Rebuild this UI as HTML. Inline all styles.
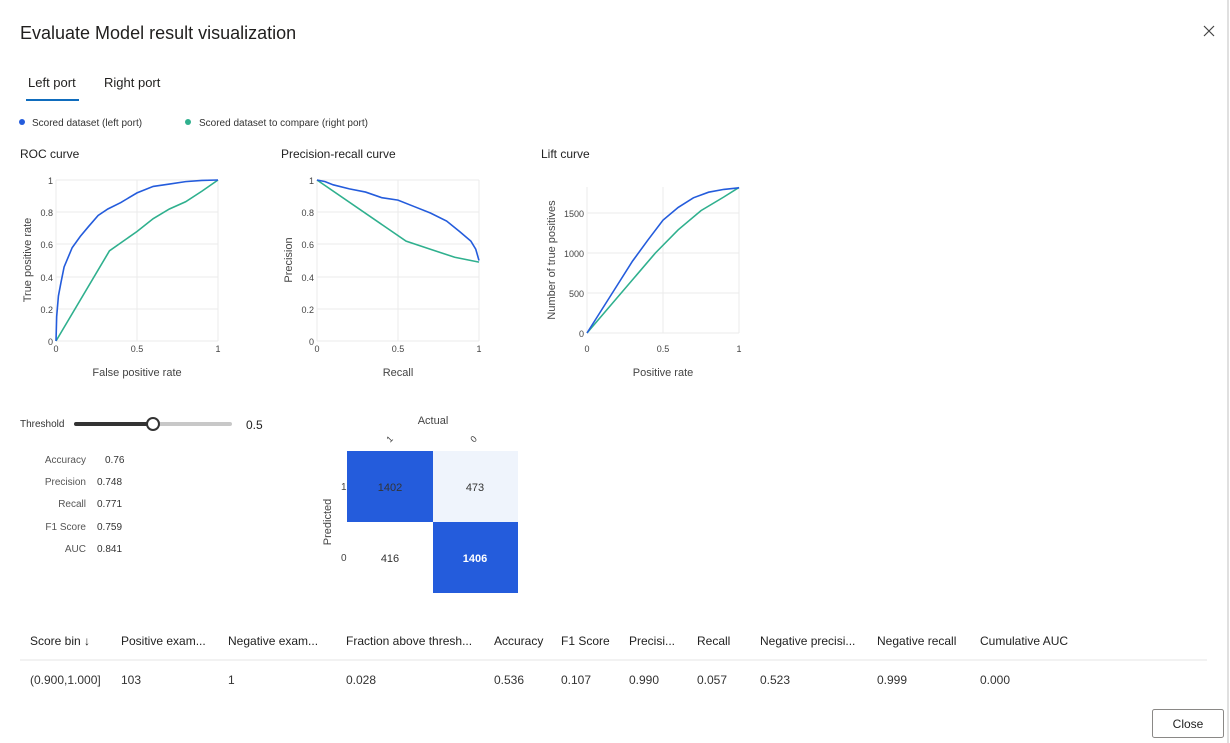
<!DOCTYPE html>
<html><head><meta charset="utf-8"><style>
html,body{margin:0;padding:0;background:#fff;width:1230px;height:743px;overflow:hidden}
svg text{font-family:"Liberation Sans",sans-serif}
</style></head><body>
<svg width="1230" height="743" viewBox="0 0 1230 743" xmlns="http://www.w3.org/2000/svg">
<rect width="1230" height="743" fill="#fff"/>
<line x1="1228" y1="0" x2="1228" y2="743" stroke="#e0e0e0" stroke-width="2"/>
<text x="20" y="39" font-size="18" fill="#201f1e">Evaluate Model result visualization</text>
<path d="M1204 26 L1214 36 M1214 26 L1204 36" stroke="#444" stroke-width="1.2"/>
<text x="28" y="87" font-size="13" fill="#201f1e">Left port</text>
<text x="104" y="87" font-size="13" fill="#201f1e">Right port</text>
<rect x="26" y="99" width="53" height="2" fill="#0f6cbd"/>
<circle cx="22" cy="122" r="3" fill="#245cdc"/>
<text x="32" y="126" font-size="10" fill="#333">Scored dataset (left port)</text>
<circle cx="188" cy="122" r="3" fill="#2fb08e"/>
<text x="199" y="126" font-size="10" fill="#333">Scored dataset to compare (right port)</text>
<text x="20" y="158" font-size="12" fill="#222">ROC curve</text>
<text x="281" y="158" font-size="12" fill="#222">Precision-recall curve</text>
<text x="541" y="158" font-size="12" fill="#222">Lift curve</text>

<!-- ROC -->
<g stroke="#ebebeb" stroke-width="1">
<line x1="56" y1="180" x2="218" y2="180"/><line x1="56" y1="212" x2="218" y2="212"/><line x1="56" y1="244" x2="218" y2="244"/><line x1="56" y1="277" x2="218" y2="277"/><line x1="56" y1="309" x2="218" y2="309"/>
<line x1="137" y1="180" x2="137" y2="341"/><line x1="218" y1="180" x2="218" y2="341"/>
<line x1="56" y1="180" x2="56" y2="341"/><line x1="56" y1="341" x2="218" y2="341"/>
</g>
<g font-size="9" fill="#444" text-anchor="end">
<text x="53" y="184">1</text><text x="53" y="216">0.8</text><text x="53" y="248">0.6</text><text x="53" y="281">0.4</text><text x="53" y="313">0.2</text><text x="53" y="345">0</text>
</g>
<g font-size="9" fill="#444" text-anchor="middle">
<text x="56" y="352">0</text><text x="137" y="352">0.5</text><text x="218" y="352">1</text>
</g>
<text x="137" y="376" font-size="11" fill="#444" text-anchor="middle">False positive rate</text>
<text transform="translate(31,260) rotate(-90)" font-size="11" fill="#444" text-anchor="middle">True positive rate</text>
<g transform="translate(56,341) scale(162,-161)" fill="none" stroke-width="1.6">
<polyline vector-effect="non-scaling-stroke" stroke="#2fb08e" points="0,0 0.33,0.56 0.5,0.68 0.6,0.76 0.7,0.82 0.8,0.865 0.9,0.93 1,1"/>
<polyline vector-effect="non-scaling-stroke" stroke="#245cdc" points="0,0 0.004,0.15 0.015,0.28 0.03,0.36 0.05,0.46 0.1,0.58 0.15,0.65 0.2,0.71 0.26,0.78 0.32,0.82 0.4,0.86 0.5,0.92 0.6,0.96 0.7,0.975 0.8,0.99 0.9,0.997 1,1"/>
</g>

<!-- PR -->
<g stroke="#ebebeb" stroke-width="1">
<line x1="317" y1="180" x2="479" y2="180"/><line x1="317" y1="212" x2="479" y2="212"/><line x1="317" y1="244" x2="479" y2="244"/><line x1="317" y1="277" x2="479" y2="277"/><line x1="317" y1="309" x2="479" y2="309"/>
<line x1="398" y1="180" x2="398" y2="341"/><line x1="479" y1="180" x2="479" y2="341"/>
<line x1="317" y1="180" x2="317" y2="341"/><line x1="317" y1="341" x2="479" y2="341"/>
</g>
<g font-size="9" fill="#444" text-anchor="end">
<text x="314" y="184">1</text><text x="314" y="216">0.8</text><text x="314" y="248">0.6</text><text x="314" y="281">0.4</text><text x="314" y="313">0.2</text><text x="314" y="345">0</text>
</g>
<g font-size="9" fill="#444" text-anchor="middle">
<text x="317" y="352">0</text><text x="398" y="352">0.5</text><text x="479" y="352">1</text>
</g>
<text x="398" y="376" font-size="11" fill="#444" text-anchor="middle">Recall</text>
<text transform="translate(292,260) rotate(-90)" font-size="11" fill="#444" text-anchor="middle">Precision</text>
<g transform="translate(317,341) scale(162,-161)" fill="none" stroke-width="1.6">
<polyline vector-effect="non-scaling-stroke" stroke="#2fb08e" points="0,1 0.55,0.62 0.7,0.57 0.85,0.52 1,0.49"/>
<polyline vector-effect="non-scaling-stroke" stroke="#245cdc" points="0,1 0.05,0.99 0.1,0.97 0.2,0.945 0.3,0.925 0.4,0.89 0.5,0.875 0.6,0.835 0.7,0.795 0.8,0.745 0.88,0.68 0.95,0.62 0.98,0.57 1,0.5"/>
</g>

<!-- Lift -->
<g stroke="#ebebeb" stroke-width="1">
<line x1="587" y1="213" x2="739" y2="213"/><line x1="587" y1="253" x2="739" y2="253"/><line x1="587" y1="293" x2="739" y2="293"/>
<line x1="663" y1="187" x2="663" y2="333"/><line x1="739" y1="187" x2="739" y2="333"/>
<line x1="587" y1="187" x2="587" y2="333"/><line x1="587" y1="333" x2="739" y2="333"/>
</g>
<g font-size="9" fill="#444" text-anchor="end">
<text x="584" y="217">1500</text><text x="584" y="257">1000</text><text x="584" y="297">500</text><text x="584" y="337">0</text>
</g>
<g font-size="9" fill="#444" text-anchor="middle">
<text x="587" y="352">0</text><text x="663" y="352">0.5</text><text x="739" y="352">1</text>
</g>
<text x="663" y="376" font-size="11" fill="#444" text-anchor="middle">Positive rate</text>
<text transform="translate(555,260) rotate(-90)" font-size="11" fill="#444" text-anchor="middle">Number of true positives</text>
<g transform="translate(587,333) scale(152,-0.08)" fill="none" stroke-width="1.6">
<polyline vector-effect="non-scaling-stroke" stroke="#2fb08e" points="0,0 0.45,1000 0.6,1290 0.75,1530 0.9,1700 1,1820"/>
<polyline vector-effect="non-scaling-stroke" stroke="#245cdc" points="0,0 0.1,300 0.2,600 0.3,900 0.4,1160 0.5,1410 0.6,1570 0.7,1690 0.8,1760 0.9,1795 1,1815"/>
</g>

<!-- Threshold -->
<text x="20" y="427" font-size="10" fill="#333">Threshold</text>
<rect x="74" y="422" width="80" height="4" rx="2" fill="#333"/>
<rect x="154" y="422" width="78" height="4" rx="2" fill="#c8c8c8"/>
<circle cx="153" cy="424" r="6" fill="#fff" stroke="#333" stroke-width="2"/>
<text x="246" y="429" font-size="12" fill="#222">0.5</text>
<g font-size="10" fill="#555" text-anchor="end">
<text x="86" y="463">Accuracy</text><text x="86" y="485">Precision</text><text x="86" y="507">Recall</text><text x="86" y="530">F1 Score</text><text x="86" y="552">AUC</text>
</g>
<g font-size="10" fill="#333">
<text x="105" y="463">0.76</text><text x="97" y="485">0.748</text><text x="97" y="507">0.771</text><text x="97" y="530">0.759</text><text x="97" y="552">0.841</text>
</g>

<!-- Confusion matrix -->
<text x="433" y="424" font-size="11" fill="#444" text-anchor="middle">Actual</text>
<text transform="translate(390,443) rotate(-45)" font-size="9" fill="#444">1</text>
<text transform="translate(474,443) rotate(-45)" font-size="9" fill="#444">0</text>
<rect x="347" y="451" width="86" height="71" fill="#245cdc"/>
<rect x="433" y="451" width="85" height="71" fill="#eff4fc"/>
<rect x="433" y="522" width="85" height="71" fill="#245cdc"/>
<text x="390" y="491" font-size="11" fill="#333" text-anchor="middle">1402</text>
<text x="475" y="491" font-size="11" fill="#333" text-anchor="middle">473</text>
<text x="390" y="562" font-size="11" fill="#333" text-anchor="middle">416</text>
<text x="475" y="562" font-size="11" fill="#fff" font-weight="bold" text-anchor="middle">1406</text>
<text x="341" y="490" font-size="10" fill="#444">1</text>
<text x="341" y="561" font-size="10" fill="#444">0</text>
<text transform="translate(331,522) rotate(-90)" font-size="11" fill="#444" text-anchor="middle">Predicted</text>

<!-- Table -->
<g font-size="12" fill="#222">
<text x="30" y="645">Score bin ↓</text><text x="121" y="645">Positive exam...</text><text x="228" y="645">Negative exam...</text><text x="346" y="645">Fraction above thresh...</text><text x="494" y="645">Accuracy</text><text x="561" y="645">F1 Score</text><text x="629" y="645">Precisi...</text><text x="697" y="645">Recall</text><text x="760" y="645">Negative precisi...</text><text x="877" y="645">Negative recall</text><text x="980" y="645">Cumulative AUC</text>
</g>
<line x1="20" y1="660" x2="1207" y2="660" stroke="#e6e6e6"/>
<g font-size="12" fill="#333">
<text x="30" y="684">(0.900,1.000]</text><text x="121" y="684">103</text><text x="228" y="684">1</text><text x="346" y="684">0.028</text><text x="494" y="684">0.536</text><text x="561" y="684">0.107</text><text x="629" y="684">0.990</text><text x="697" y="684">0.057</text><text x="760" y="684">0.523</text><text x="877" y="684">0.999</text><text x="980" y="684">0.000</text>
</g>
<rect x="1152.5" y="709.5" width="71" height="28" fill="#fff" stroke="#8a8886" rx="2"/>
<text x="1188" y="728" font-size="12" fill="#222" text-anchor="middle">Close</text>
</svg>
</body></html>
